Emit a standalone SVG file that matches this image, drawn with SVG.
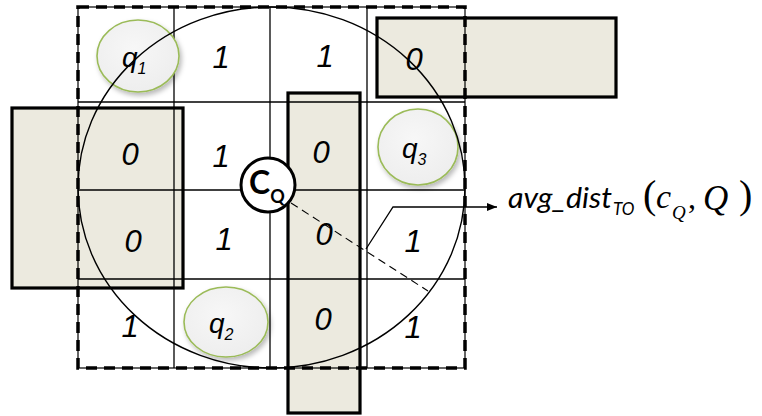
<svg xmlns="http://www.w3.org/2000/svg" width="762" height="416" viewBox="0 0 762 416">
  <style>
    .band { fill: #ECEADF; stroke: #000; stroke-width: 3.2; }
    .grid { stroke: #000; stroke-width: 1.3; fill: none; }
    .val { font-family: "Liberation Sans", Arial, sans-serif; font-style: italic; font-size: 31px; fill: #000; text-anchor: middle; }
    .qlab { font-family: "Liberation Sans", Arial, sans-serif; font-style: italic; font-size: 28px; fill: #000; }
    .qsub { font-size: 16px; }
    .query { fill: url(#qfill); stroke: #9BBB59; stroke-width: 1.6; filter: url(#soft); }
    .lbl { font-family: Lato, "Open Sans", sans-serif; font-style: italic; fill: #000; }
    .math { font-family: "Liberation Serif", "Times New Roman", serif; fill: #000; }
  </style>
  <defs>
    <radialGradient id="qfill" cx="0.45" cy="0.4" r="0.65">
      <stop offset="0" stop-color="#F7F7F7"/>
      <stop offset="1" stop-color="#EDEDED"/>
    </radialGradient>
    <filter id="soft" x="-20%" y="-20%" width="150%" height="150%">
      <feDropShadow dx="2" dy="3" stdDeviation="2.5" flood-color="#000" flood-opacity="0.28"/>
    </filter>
    <marker id="arrow" viewBox="0 0 10 8" refX="10" refY="4" markerWidth="10" markerHeight="8" markerUnits="userSpaceOnUse" orient="auto">
      <path d="M0,0 L10,4 L0,8 Z" fill="#000"/>
    </marker>
  </defs>

  <!-- shaded bands -->
  <g id="bands">
    <rect id="band-left" class="band" x="12" y="108" width="171" height="180"/>
    <rect id="band-mid" class="band" x="288" y="93" width="72" height="320"/>
    <rect id="band-top" class="band" x="377" y="18" width="239" height="79"/>
  </g>

  <!-- cell grid and outer boundary -->
  <g id="grid">
    <line class="grid" x1="174" y1="7" x2="174" y2="368"/>
    <line class="grid" x1="270" y1="7" x2="270" y2="368"/>
    <line class="grid" x1="367" y1="7" x2="367" y2="368"/>
    <line class="grid" x1="78" y1="102" x2="465" y2="102"/>
    <line class="grid" x1="78" y1="190" x2="465" y2="190"/>
    <line class="grid" x1="78" y1="279" x2="465" y2="279"/>
    <rect x="78" y="7" width="387" height="361" fill="none" stroke="#000" stroke-width="1.2"/>
    <rect x="78" y="7" width="387" height="361" fill="none" stroke="#000" stroke-width="3.5" stroke-dasharray="11 7"/>
  </g>

  <!-- query points -->
  <g id="q1">
    <ellipse class="query" cx="138" cy="56" rx="41" ry="36"/>
    <text class="qlab" x="122" y="67">q<tspan class="qsub" dy="7">1</tspan></text>
  </g>
  <g id="q2">
    <ellipse class="query" cx="226" cy="322" rx="42" ry="35"/>
    <text class="qlab" x="209" y="333">q<tspan class="qsub" dy="7">2</tspan></text>
  </g>
  <g id="q3">
    <ellipse class="query" cx="418" cy="147" rx="40" ry="38"/>
    <text class="qlab" x="402" y="158">q<tspan class="qsub" dy="7">3</tspan></text>
  </g>

  <!-- cell values -->
  <g id="values">
    <text class="val" x="221" y="68">1</text>
    <text class="val" x="325" y="67">1</text>
    <text class="val" x="414" y="70">0</text>
    <text class="val" x="130" y="165">0</text>
    <text class="val" x="221" y="167">1</text>
    <text class="val" x="321" y="163">0</text>
    <text class="val" x="133" y="252">0</text>
    <text class="val" x="224" y="250">1</text>
    <text class="val" x="324" y="245">0</text>
    <text class="val" x="413" y="252">1</text>
    <text class="val" x="130" y="337">1</text>
    <text class="val" x="323" y="330">0</text>
    <text class="val" x="413" y="338">1</text>
  </g>

  <!-- search region around the centre -->
  <g id="region">
    <ellipse cx="271.5" cy="187.5" rx="193.5" ry="180.5" fill="none" stroke="#000" stroke-width="1.4"/>
  </g>

  <!-- connectors -->
  <g id="connectors">
    <line x1="291" y1="203" x2="428" y2="291" stroke="#000" stroke-width="1.1" stroke-dasharray="8 5"/>
    <polyline points="366,249 393,207 497,207" fill="none" stroke="#000" stroke-width="1.3" marker-end="url(#arrow)"/>
  </g>

  <!-- centre c_Q -->
  <g id="cq">
    <circle cx="268" cy="185" r="27" fill="#fff" stroke="#000" stroke-width="3"/>
    <text x="249" y="194" font-family="Lato, 'Open Sans', sans-serif" font-weight="bold" font-size="32" fill="#000">C<tspan font-size="18" dy="9">Q</tspan></text>
  </g>

  <!-- distance label -->
  <g id="label">
    <text class="lbl" x="508" y="208" font-size="29" textLength="104" lengthAdjust="spacingAndGlyphs">avg_dist</text>
    <text class="lbl" x="613" y="215" font-size="17">TO</text>
    <text class="math" x="643" y="208" font-size="40">(</text>
    <text class="math" x="656" y="208" font-size="34" font-style="italic">c</text>
    <text class="math" x="672" y="219" font-size="19" font-style="italic">Q</text>
    <text class="math" x="688" y="208" font-size="32">,</text>
    <text class="math" x="703" y="210" font-size="35" font-style="italic">Q</text>
    <text class="math" x="739" y="208" font-size="40">)</text>
  </g>
</svg>
